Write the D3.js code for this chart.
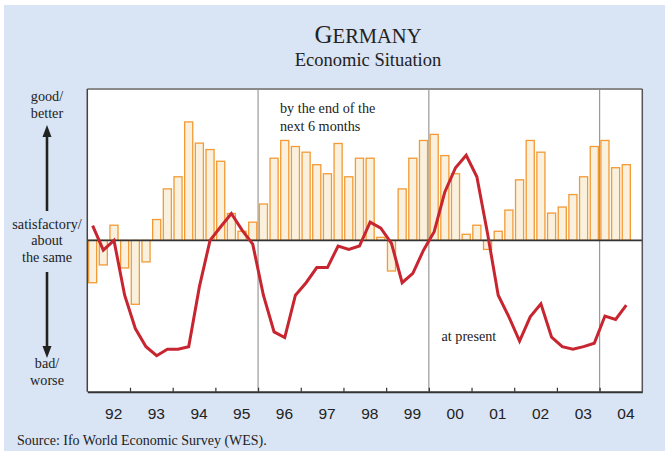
<!DOCTYPE html>
<html>
<head>
<meta charset="utf-8">
<script src="https://cdn.jsdelivr.net/npm/d3@7"></script>
<style>
  html, body { margin: 0; padding: 0; background: #ffffff; }
  svg { display: block; }
</style>
</head>
<body>
<svg id="chart" width="668" height="454"></svg>
<script>
// Year labels (one per year, quarterly data from 1992 Q1 to 2004 Q3)
const years = ["92","93","94","95","96","97","98","99","00","01","02","03","04"];

// WES scale: 9 = good/better, 5 = satisfactory/about the same, 1 = bad/worse
// Expected economic situation by the end of the next 6 months (bars)
const expectations = [
  3.88, 4.35, 5.40, 4.27,
  3.31, 4.43, 5.55, 6.36,
  6.68, 8.13, 7.57, 7.40,
  7.09, 5.71, 5.24, 5.48,
  5.96, 7.17, 7.64, 7.48,
  7.33, 7.00, 6.76, 7.56,
  6.68, 7.17, 7.17, 5.08,
  4.19, 6.36, 7.17, 7.64,
  7.80, 7.24, 6.76, 5.16,
  5.40, 4.76, 5.24, 5.80,
  6.60, 7.64, 7.33, 5.72,
  5.88, 6.21, 6.68, 7.48,
  7.64, 6.92, 7.00
];

// Economic situation at present (line)
const present = [
  5.39, 4.74, 5.00, 3.55,
  2.67, 2.19, 1.95, 2.12,
  2.12, 2.19, 3.77, 5.00,
  5.36, 5.71, 5.27, 4.90,
  3.55, 2.58, 2.43, 3.55,
  3.88, 4.28, 4.28, 4.85,
  4.76, 4.85, 5.48, 5.32,
  4.92, 3.88, 4.13, 4.74,
  5.23, 6.28, 6.92, 7.25,
  6.68, 5.18, 3.55, 2.98,
  2.34, 2.98, 3.32, 2.44,
  2.19, 2.12, 2.19, 2.28,
  3.00, 2.91, 3.29
];

// Year boundaries marked with a vertical rule
const markedYears = [4, 8, 12]; // start of 96, 00, 04 (index of year)

const svg = d3.select("#chart");
const W = 668, H = 454;
const plot = { left: 87.3, right: 642.3, top: 89, bottom: 391.7 };

// background
svg.append("rect").attr("x", 0).attr("y", 0).attr("width", W).attr("height", H).attr("fill", "#ffffff");
svg.append("rect").attr("x", 4).attr("y", 5).attr("width", 661).attr("height", 446).attr("fill", "#d9e4f4");

const nQ = years.length * 4;
const x = d3.scaleLinear().domain([0, nQ]).range([plot.left, plot.right]);
const y = d3.scaleLinear().domain([1, 9]).range([plot.bottom, plot.top]);

// plot area
svg.append("rect")
  .attr("x", plot.left).attr("y", plot.top)
  .attr("width", plot.right - plot.left).attr("height", plot.bottom - plot.top)
  .attr("fill", "#ffffff");

// vertical rules
svg.append("g").selectAll("line").data(markedYears).join("line")
  .attr("x1", d => x(d * 4)).attr("x2", d => x(d * 4))
  .attr("y1", plot.top).attr("y2", plot.bottom)
  .attr("stroke", "#9a9a9a").attr("stroke-width", 1.2);

// bars
svg.append("g").selectAll("rect").data(expectations).join("rect")
  .attr("x", (d, i) => x(i) + 1.3)
  .attr("width", (d, i) => x(i + 1) - x(i) - 2.6)
  .attr("y", d => Math.min(y(d), y(5)))
  .attr("height", d => Math.abs(y(d) - y(5)))
  .attr("fill", "#f9f1de")
  .attr("stroke", "#f29a34")
  .attr("stroke-width", 1.3);

// zero (satisfactory) line
svg.append("line")
  .attr("x1", plot.left).attr("x2", plot.right)
  .attr("y1", y(5)).attr("y2", y(5))
  .attr("stroke", "#333333").attr("stroke-width", 1.6);

// present line
const line = d3.line().x((d, i) => x(i + 0.5)).y(d => y(d));
svg.append("path").datum(present)
  .attr("d", line)
  .attr("fill", "none")
  .attr("stroke", "#c72530")
  .attr("stroke-width", 3)
  .attr("stroke-linejoin", "miter");

// plot frame
svg.append("line").attr("x1", plot.left).attr("x2", plot.right).attr("y1", plot.top).attr("y2", plot.top)
  .attr("stroke", "#8a8a8a").attr("stroke-width", 2);
svg.append("line").attr("x1", plot.left).attr("x2", plot.left).attr("y1", plot.top).attr("y2", plot.bottom)
  .attr("stroke", "#444444").attr("stroke-width", 1.5);
svg.append("line").attr("x1", plot.right).attr("x2", plot.right).attr("y1", plot.top).attr("y2", plot.bottom)
  .attr("stroke", "#555555").attr("stroke-width", 1.5);

// x axis ticks (year boundaries)
const tickAxis = d3.axisBottom(x)
  .tickValues(d3.range(4, nQ, 4))
  .tickSize(-4)
  .tickSizeOuter(0)
  .tickFormat("");
const gt = svg.append("g").attr("transform", `translate(0,${plot.bottom})`).call(tickAxis);
gt.select(".domain").attr("stroke", "#333333").attr("stroke-width", 2);
gt.selectAll(".tick line").attr("stroke", "#333333").attr("stroke-width", 1.2);

// x axis labels (year centres)
const labelAxis = d3.axisBottom(x)
  .tickValues(d3.range(2, nQ, 4))
  .tickSize(0)
  .tickPadding(16)
  .tickFormat((d, i) => years[i]);
const gl = svg.append("g").attr("transform", `translate(4.5,${plot.bottom})`).call(labelAxis);
gl.select(".domain").remove();
gl.selectAll("text")
  .attr("font-family", "'Liberation Sans', Arial, sans-serif")
  .attr("font-size", 15.5)
  .attr("fill", "#222222");

// titles
const serif = "'Liberation Serif', 'Times New Roman', serif";
const t1 = svg.append("text").attr("x", 368).attr("y", 42.5).attr("text-anchor", "middle")
  .attr("font-family", serif).attr("fill", "#222222");
t1.append("tspan").attr("font-size", 25).text("G");
t1.append("tspan").attr("font-size", 20.5).text("ERMANY");
svg.append("text").attr("x", 368).attr("y", 65.5).attr("text-anchor", "middle")
  .attr("font-family", serif).attr("font-size", 18.5).attr("fill", "#222222")
  .text("Economic Situation");

// annotations
const ann = svg.append("g").attr("font-family", serif).attr("font-size", 14.2).attr("fill", "#222222");
ann.append("text").attr("x", 280).attr("y", 112.5).text("by the end of the");
ann.append("text").attr("x", 280).attr("y", 130.5).text("next 6 months");
ann.append("text").attr("x", 441.5).attr("y", 340.5).text("at present");

// left scale labels
const leftLabels = [
  { t: "good/", yy: 101 }, { t: "better", yy: 117.5 },
  { t: "satisfactory/", yy: 228.5 }, { t: "about", yy: 245 }, { t: "the same", yy: 261.5 },
  { t: "bad/", yy: 368 }, { t: "worse", yy: 384.5 }
];
svg.append("g").selectAll("text").data(leftLabels).join("text")
  .attr("x", 47).attr("y", d => d.yy).attr("text-anchor", "middle")
  .attr("font-family", serif).attr("font-size", 14.2).attr("fill", "#222222")
  .text(d => d.t);

// arrows
const arrowG = svg.append("g");
arrowG.append("line").attr("x1", 47).attr("x2", 47).attr("y1", 211).attr("y2", 134)
  .attr("stroke", "#222222").attr("stroke-width", 2.6);
arrowG.append("path").attr("d", "M47,125 L42.5,137 L51.5,137 Z").attr("fill", "#222222");
arrowG.append("line").attr("x1", 47).attr("x2", 47).attr("y1", 272).attr("y2", 349)
  .attr("stroke", "#222222").attr("stroke-width", 2.6);
arrowG.append("path").attr("d", "M47,358 L42.5,346 L51.5,346 Z").attr("fill", "#222222");

// source
svg.append("text").attr("x", 17).attr("y", 445)
  .attr("font-family", serif).attr("font-size", 14).attr("fill", "#222222")
  .text("Source: Ifo World Economic Survey (WES).");
</script>
</body>
</html>
